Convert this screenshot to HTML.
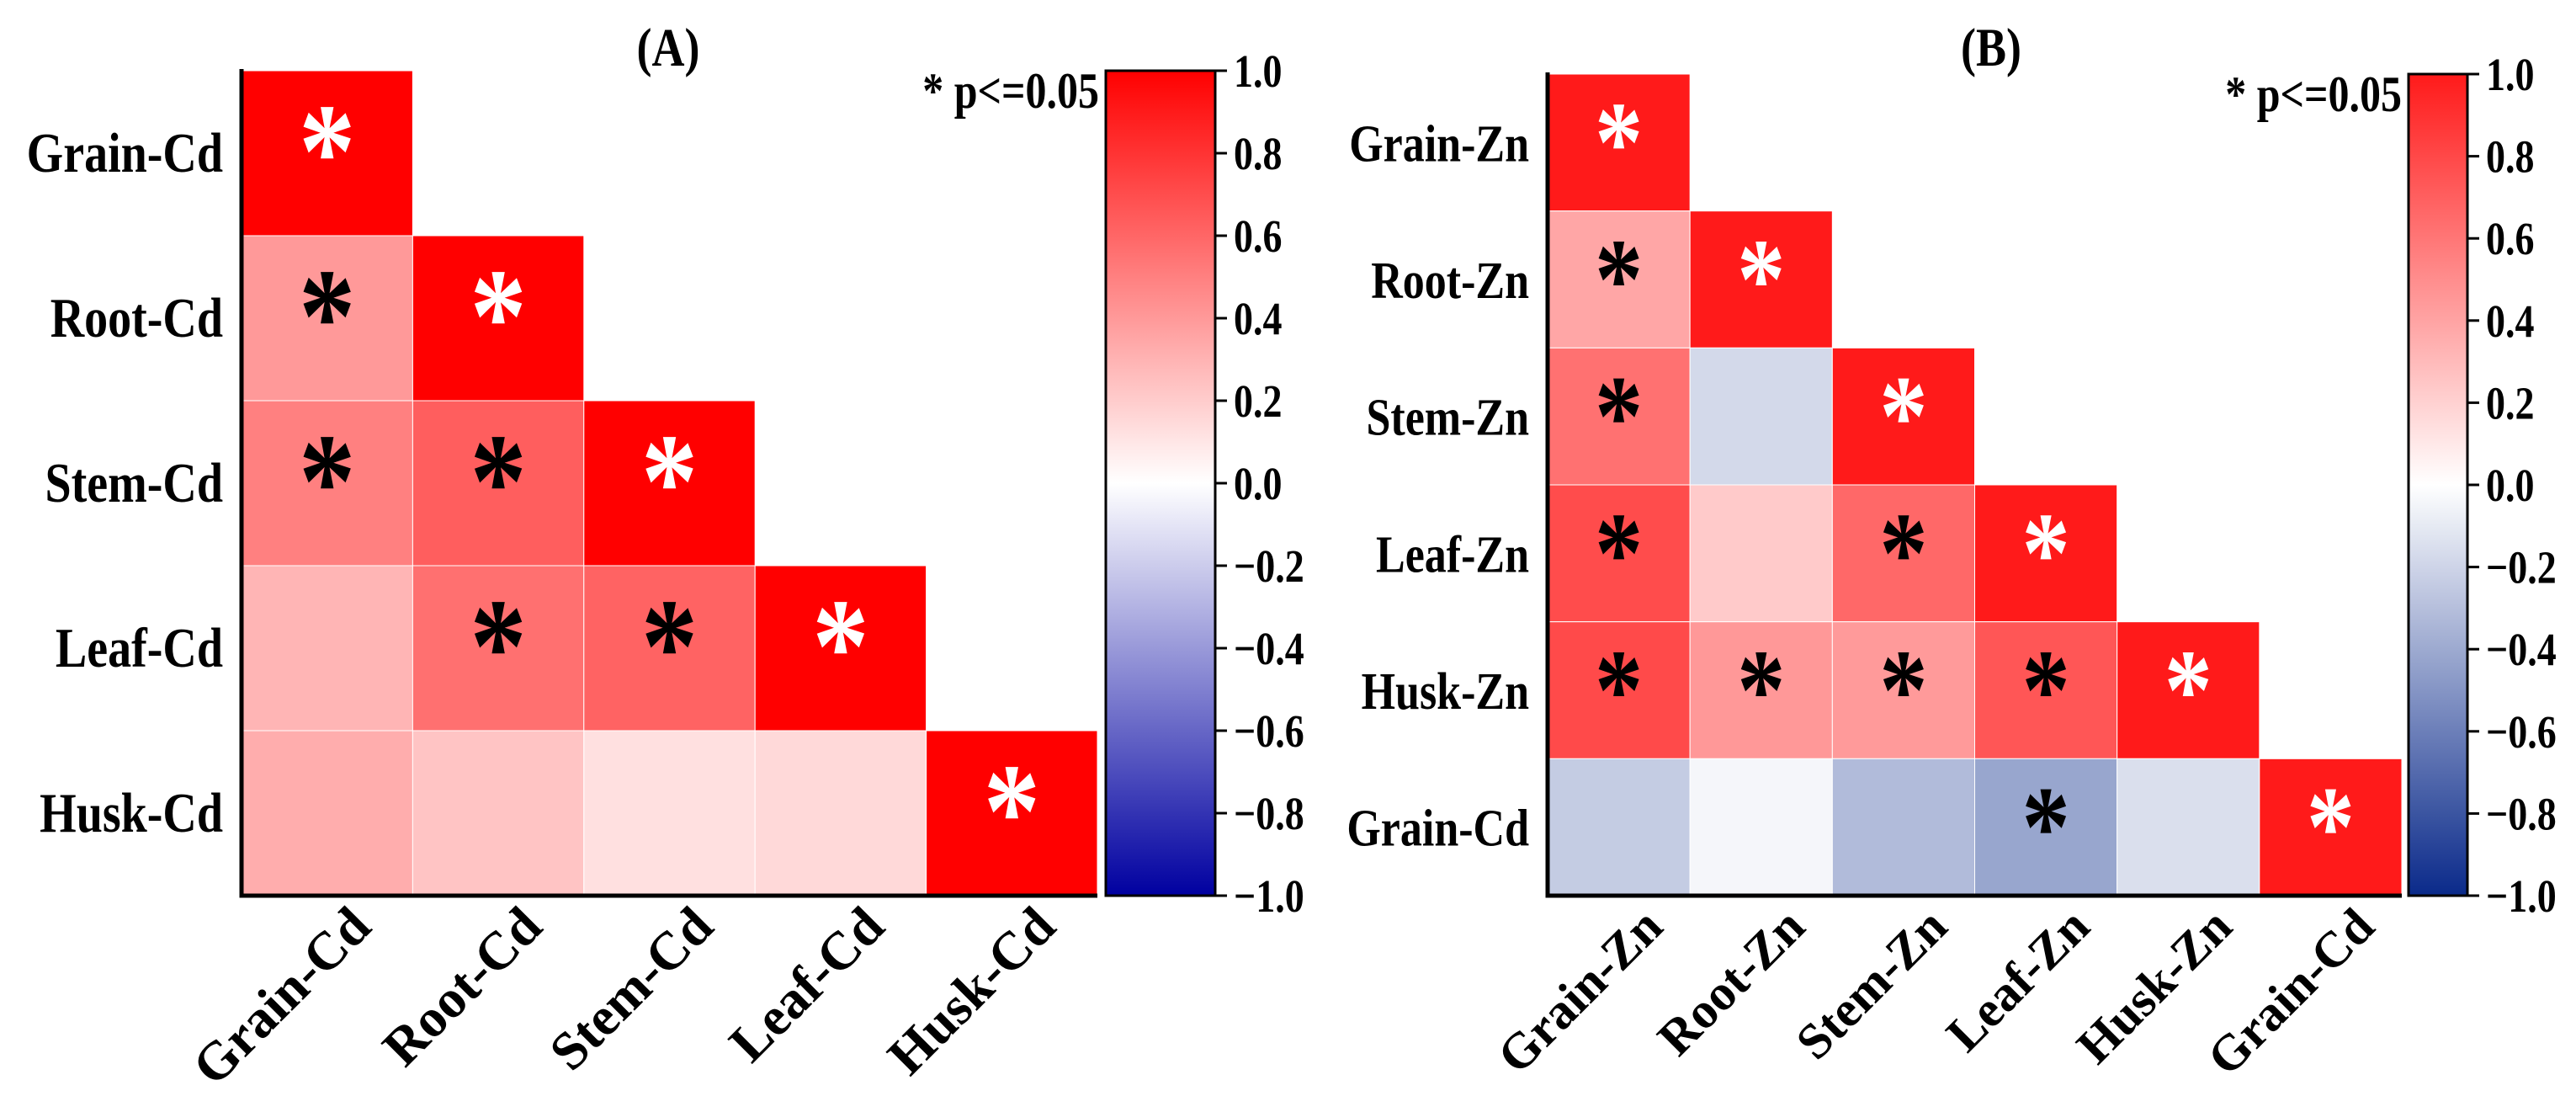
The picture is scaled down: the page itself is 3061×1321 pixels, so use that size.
<!DOCTYPE html>
<html><head><meta charset="utf-8"><style>
body{margin:0;background:#fff}
svg{display:block;font-family:"Liberation Serif",serif;font-weight:bold}
</style></head><body>
<svg id="chart" width="3061" height="1321" viewBox="0 0 3061 1321"></svg>
<script>
// Panel A data
const labelsA = ["Grain-Cd","Root-Cd","Stem-Cd","Leaf-Cd","Husk-Cd"];
const valuesA = [
 [1.0],
 [0.40,1.0],
 [0.50,0.63,1.0],
 [0.29,0.56,0.61,1.0],
 [0.32,0.23,0.12,0.15,1.0]
];
const sigA = [
 [1],
 [1,1],
 [1,1,1],
 [0,1,1,1],
 [0,0,0,0,1]
];
// Panel B data
const labelsB = ["Grain-Zn","Root-Zn","Stem-Zn","Leaf-Zn","Husk-Zn","Grain-Cd"];
const valuesB = [
 [1.0],
 [0.39,1.0],
 [0.62,-0.18,1.0],
 [0.78,0.23,0.66,1.0],
 [0.79,0.45,0.44,0.74,1.0],
 [-0.24,-0.04,-0.32,-0.42,-0.15,1.0]
];
const sigB = [
 [1],
 [1,1],
 [1,0,1],
 [1,0,1,1],
 [1,1,1,1,1],
 [0,0,0,1,0,1]
];
const cbTicks = [1.0,0.8,0.6,0.4,0.2,0.0,-0.2,-0.4,-0.6,-0.8,-1.0];

const NS="http://www.w3.org/2000/svg";
const svg=document.getElementById('chart');
const SY=1.2;
function mk(tag,attrs,parent){const e=document.createElementNS(NS,tag);for(const k in attrs)e.setAttribute(k,attrs[k]);(parent||svg).appendChild(e);return e;}
function txt(x,y,attrs,parent){
  const a=Object.assign({x:0,y:0},attrs);
  a.transform=`translate(${x} ${y}) scale(1 ${SY})`;
  return mk('text',a,parent);
}

function colorFn(pos,neg){
  return v=>{
    let c;
    if(v>=0){c=[255+(pos[0]-255)*v,255+(pos[1]-255)*v,255+(pos[2]-255)*v];}
    else{const t=-v;c=[255+(neg[0]-255)*t,255+(neg[1]-255)*t,255+(neg[2]-255)*t];}
    return `rgb(${c.map(x=>Math.round(x)).join(',')})`;
  };
}

function panel(cfg){
  const g=mk('g',{});
  
  
  const n=cfg.labels.length;
  const cw=(cfg.x1-cfg.x0)/n, ch=(cfg.y1-cfg.y0)/n;
  const col=colorFn(cfg.pos,cfg.neg);
  const xS=j=>cfg.x0+j*cw, yS=i=>cfg.y0+i*ch;
  for(let i=0;i<n;i++){
    for(let j=0;j<=i;j++){
      const v=cfg.values[i][j];
      const r=mk('rect',{x:xS(j),y:yS(i),width:cw,height:ch,fill:col(v),stroke:'#fff','stroke-width':1},g);
      
      
      if(cfg.sig[i][j]){
        const t=txt(xS(j)+cw/2,yS(i)+ch/2+cfg.astOff,{'text-anchor':'middle','font-size':cfg.astSize,fill:(i===j?'#fff':'#000')},g);
        t.textContent='*';
        
        
      }
    }
    const yl=txt(cfg.x0-22,yS(i)+ch/2+22,{'text-anchor':'end','font-size':cfg.labSize},g);
    yl.textContent=cfg.labels[i];
    
    
    const xx=xS(i)+cw/2+55, yy=cfg.y1+40;
    const xl=mk('text',{x:xx,y:yy,'text-anchor':'end','font-size':cfg.xlabSize,transform:`rotate(-45 ${xx} ${yy})`},g);
    xl.textContent=cfg.labels[i];
    
    
  }
  const ax=mk('path',{d:`M${cfg.x0},${cfg.y0-2} V${cfg.y1} H${cfg.x1}`,fill:'none',stroke:'#000','stroke-width':5},g);
  
  
  const gid='grad'+cfg.name;
  const defs=mk('defs',{},g);
  const lg=mk('linearGradient',{id:gid,x1:0,y1:0,x2:0,y2:1},defs);
  for(let k=0;k<=20;k++){const v=1-k/10;mk('stop',{offset:(k/20),'stop-color':col(v)},lg);}
  const cb=mk('rect',{x:cfg.cbx,y:cfg.y0,width:cfg.cbw,height:cfg.y1-cfg.y0,fill:`url(#${gid})`,stroke:'#000','stroke-width':3},g);
  
  
  const cy=v=>cfg.y0+(1-v)/2*(cfg.y1-cfg.y0);
  cbTicks.forEach(v=>{
    mk('line',{x1:cfg.cbx+cfg.cbw,x2:cfg.cbx+cfg.cbw+14,y1:cy(v),y2:cy(v),stroke:'#000','stroke-width':3},g);
    const t=txt(cfg.cbx+cfg.cbw+22,cy(v)+19,{'font-size':46},g);
    t.textContent=(v<0?'\u2212':'')+Math.abs(v).toFixed(1);
    
    
  });
  const ti=txt(cfg.titleX,78,{'text-anchor':'middle','font-size':54},g);
  ti.textContent=cfg.title;
  
  
  const p=txt(cfg.cbx-8,cfg.y0+44,{'text-anchor':'end','font-size':50},g);
  p.textContent='* p<=0.05';
  
  
}

panel({name:'panel-a',labels:labelsA,values:valuesA,sig:sigA,x0:287,x1:1304,y0:84,y1:1064,
  pos:[255,0,0],neg:[0,0,160],cbx:1314,cbw:130,titleX:794,title:'(A)',astSize:135,astOff:52,labSize:56,xlabSize:64});
panel({name:'panel-b',labels:labelsB,values:valuesB,sig:sigB,x0:1839,x1:2854,y0:88,y1:1064,
  pos:[255,26,26],neg:[10,42,138],cbx:2862,cbw:70,titleX:2366,title:'(B)',astSize:115,astOff:46,labSize:52,xlabSize:60});
</script>
</body></html>
